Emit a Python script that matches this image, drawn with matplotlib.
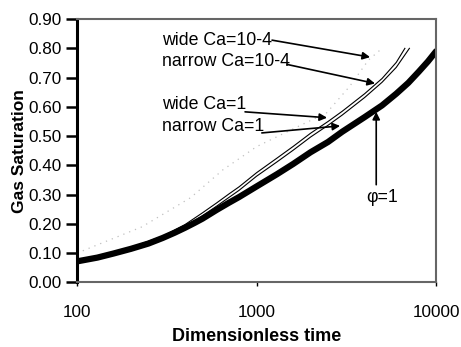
import numpy as np
import matplotlib.pyplot as plt

plt.rcParams['font.family'] = ['Liberation Sans', 'DejaVu Sans']

# phi = 1 (thick curve)
t_phi = [100, 130, 160, 200, 250, 300, 350, 400, 450, 500, 600, 700, 800, 1000,
         1300, 1600, 2000, 2500, 3000, 4000, 5000, 6000, 7000, 8000, 9000, 10000]
s_phi = [0.072, 0.085, 0.099, 0.115, 0.133, 0.152, 0.17, 0.187, 0.203, 0.218, 0.248, 0.272,
         0.292, 0.328, 0.37, 0.405, 0.445, 0.48, 0.515, 0.565, 0.605, 0.645, 0.682, 0.72, 0.755, 0.79]

# wide / narrow Ca curves (thin double line)
t_wide = [100, 150, 200, 300, 400, 500, 600, 700, 800, 1000, 1300, 1600, 2000, 2500,
          3000, 4000, 5000, 6000, 6700]
s_wide = [0.075, 0.098, 0.12, 0.158, 0.198, 0.238, 0.272, 0.302, 0.327, 0.375, 0.425, 0.465,
          0.51, 0.55, 0.585, 0.645, 0.697, 0.752, 0.80]
t_narrow = [100, 150, 200, 300, 400, 500, 600, 700, 800, 1000, 1300, 1600, 2000, 2500,
            3000, 4000, 5000, 6000, 7100]
s_narrow = [0.073, 0.096, 0.117, 0.153, 0.19, 0.228, 0.261, 0.29, 0.315, 0.363, 0.412, 0.452,
            0.497, 0.537, 0.572, 0.632, 0.684, 0.735, 0.80]

# faint dotted curve
t_dot = [100, 120, 230, 430, 650, 1000, 1540, 2460, 3300, 4200, 5000]
s_dot = [0.10, 0.12, 0.19, 0.29, 0.385, 0.464, 0.52, 0.58, 0.67, 0.76, 0.80]

yticks = np.arange(0, 0.91, 0.1)
xticks = [100, 1000, 10000]

fig = plt.figure(figsize=(4.61, 3.47), dpi=100)
ax = fig.add_axes([0.167, 0.186, 0.779, 0.759])

ax.plot(t_dot, s_dot, color='#c0c0c0', lw=0.9, ls=(0, (1, 4)))
ax.plot(t_wide, s_wide, color='black', lw=0.8)
ax.plot(t_narrow, s_narrow, color='black', lw=0.8)
ax.plot(t_phi, s_phi, color='black', lw=4.5, solid_capstyle='round', solid_joinstyle='round')

ax.set_xscale('log')
ax.set_xlim(100, 10000)
ax.set_ylim(0, 0.9)
ax.set_xticks(xticks)
ax.set_xticklabels([str(v) for v in xticks])
ax.minorticks_off()
ax.set_yticks(yticks)
ax.set_yticklabels(['%.2f' % v for v in yticks])
ax.tick_params(axis='y', direction='out', length=8, width=1.8, labelsize=12.3, pad=3)
ax.tick_params(axis='x', direction='out', length=3, width=1, labelsize=12.3, pad=13)

for side in ['top', 'right', 'bottom']:
    ax.spines[side].set_color('#666666')
    ax.spines[side].set_linewidth(1.5)
ax.spines['left'].set_color('black')
ax.spines['left'].set_linewidth(2.2)

ax.set_xlabel('Dimensionless time', fontsize=13, fontweight='bold', labelpad=6)
ax.set_ylabel('Gas Saturation', fontsize=12.5, fontweight='bold', labelpad=1)

arrow = dict(arrowstyle='-|>', color='black', lw=1.2, mutation_scale=11,
             shrinkA=0, shrinkB=0)
fs = 12.8

ax.text(298, 0.828, 'wide Ca=10-4', fontsize=fs, va='center', ha='left')
ax.annotate('', xy=(4290, 0.77), xytext=(1220, 0.828), arrowprops=arrow)
ax.text(298, 0.754, 'narrow Ca=10-4', fontsize=fs, va='center', ha='left')
ax.annotate('', xy=(4570, 0.68), xytext=(1480, 0.745), arrowprops=arrow)
ax.text(298, 0.607, 'wide Ca=1', fontsize=fs, va='center', ha='left')
ax.annotate('', xy=(2470, 0.563), xytext=(863, 0.583), arrowprops=arrow)
ax.text(298, 0.532, 'narrow Ca=1', fontsize=fs, va='center', ha='left')
ax.annotate('', xy=(2920, 0.535), xytext=(1070, 0.511), arrowprops=arrow)
ax.text(5000, 0.29, '\u03c6=1', fontsize=fs, va='center', ha='center')
ax.annotate('', xy=(4640, 0.583), xytext=(4640, 0.334), arrowprops=arrow)

fig.savefig('out.png', dpi=100)
